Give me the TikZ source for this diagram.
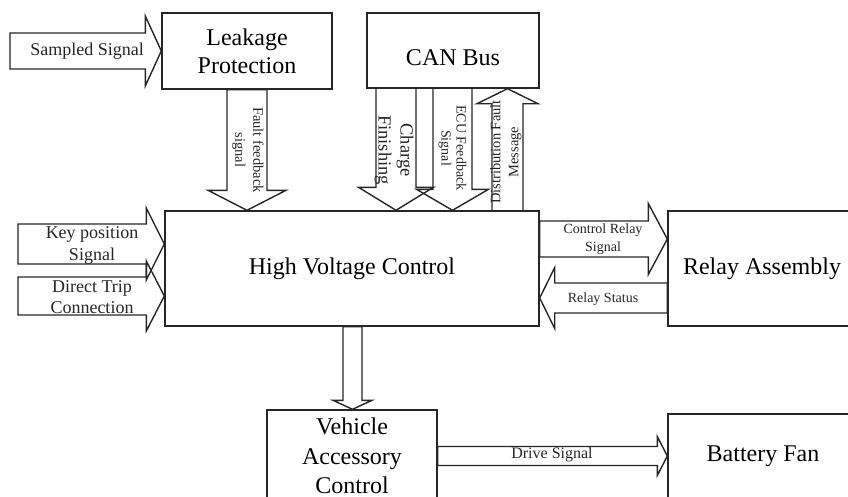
\documentclass[tikz,border=0pt]{standalone}
\usepackage{fontspec}
\setmainfont{Liberation Serif}
\usetikzlibrary{calc}
\tikzset{
  blk/.style={draw=black!85, line width=1.4pt, line join=miter},
  box/.style={draw=black!85, line width=1.4pt, rectangle, inner sep=0pt, align=center, font=\fontsize{24}{28}\selectfont},
  lbl/.style={inner sep=0pt, align=center, text=black!85},
}
\newcommand\barrow[5]{% start, tip, shaft half width, head half width, head length
  \coordinate (bb) at ($(#2)!#5!(#1)$);
  \draw[blk] ($(#1)!#3!90:(#2)$) -- ($(bb)!#3!-90:(#1)$) -- ($(bb)!#4!-90:(#1)$) -- (#2)
    -- ($(bb)!#4!90:(#1)$) -- ($(bb)!#3!90:(#1)$) -- ($(#1)!#3!-90:(#2)$) -- cycle;
}
\begin{document}
\begin{tikzpicture}[x=1pt,y=-1pt]
\useasboundingbox (0,0) rectangle (848,496);
% boxes
\node[box, minimum width=170pt, minimum height=76pt] (lp) at (247,51) {Leakage\\Protection};
\node[box, minimum width=172pt, minimum height=75pt] (can) at (453,50.5) {\raisebox{-15pt}[0pt][0pt]{CAN Bus}};
\node[box, minimum width=374pt, minimum height=115pt] (hvc) at (352,268.5) {High Voltage Control};
\node[box, minimum width=188pt, minimum height=115pt] (ra) at (762,268.5) {Relay Assembly};
\node[box, minimum width=170pt, minimum height=92pt, font=\fontsize{24}{29.5}\selectfont] (vac) at (352,456) {Vehicle\\Accessory\\Control};
\node[box, minimum width=190pt, minimum height=84pt] (bf) at (763,456) {Battery Fan};
% connector end points
\coordinate (s1) at (10,51);
\coordinate (t1) at (lp.west);
\coordinate (s2) at (lp.south);
\coordinate (t2) at (hvc.north -| s2);
\coordinate (s3) at (18,244);
\coordinate (t3) at (hvc.west |- s3);
\coordinate (s4) at (18,296);
\coordinate (t4) at (hvc.west |- s4);
\coordinate (s5) at (396,88);
\coordinate (t5) at (hvc.north -| s5);
\coordinate (s6) at (452.5,88);
\coordinate (t6) at (hvc.north -| s6);
\coordinate (s7) at (507.5,211);
\coordinate (t7) at (can.south -| s7);
\coordinate (s8) at (hvc.east |- 0,239);
\coordinate (t8) at (ra.west |- s8);
\coordinate (s9) at (ra.west |- 0,298);
\coordinate (t9) at (hvc.east |- s9);
\coordinate (s10) at (hvc.south -| 352.5,0);
\coordinate (t10) at (vac.north -| s10);
\coordinate (s11) at (vac.east |- 0,456);
\coordinate (t11) at (bf.west |- s11);
% block arrows
\barrow{s1}{t1}{18pt}{35pt}{16pt}
\barrow{s2}{t2}{20pt}{39pt}{20pt}
\barrow{s3}{t3}{20pt}{36pt}{18pt}
\barrow{s4}{t4}{19pt}{35pt}{18pt}
\barrow{s5}{t5}{20pt}{37.5pt}{23pt}
\barrow{s6}{t6}{19.5pt}{36pt}{21pt}
\barrow{s7}{t7}{15.5pt}{30.5pt}{15pt}
\barrow{s8}{t8}{18pt}{35.5pt}{19pt}
\barrow{s9}{t9}{15pt}{30.5pt}{15pt}
\barrow{s10}{t10}{9.5pt}{19.5pt}{9pt}
\barrow{s11}{t11}{9.5pt}{19.5pt}{10pt}
% labels
\node[lbl, font=\fontsize{18}{22}\selectfont] (l1) at (87,51) {Sampled Signal};
\node[lbl, font=\fontsize{14.5}{18}\selectfont, rotate=-90] (l2) at (248,150) {Fault feedback\\signal};
\node[lbl, font=\fontsize{18}{22}\selectfont] (l3) at (92,245) {Key position\\Signal};
\node[lbl, font=\fontsize{18}{21}\selectfont] (l4) at (92,297.5) {Direct Trip\\Connection};
\node[lbl, font=\fontsize{18.5}{22}\selectfont, rotate=-90] (l5) at (394,150) {Charge\\Finishing};
\node[lbl, font=\fontsize{14}{15}\selectfont, rotate=-90] (l6) at (452.5,148) {ECU Feedback\\Signal};
\node[lbl, font=\fontsize{14.5}{18}\selectfont, rotate=90] (l7) at (506,152) {Distribution Fault\\Message};
\node[lbl, font=\fontsize{14}{18}\selectfont] (l8) at (603,239) {Control Relay\\Signal};
\node[lbl, font=\fontsize{14}{18}\selectfont] (l9) at (603,299) {Relay Status};
\node[lbl, font=\fontsize{16}{20}\selectfont] (l10) at (552,455) {Drive Signal};
\end{tikzpicture}
\end{document}
